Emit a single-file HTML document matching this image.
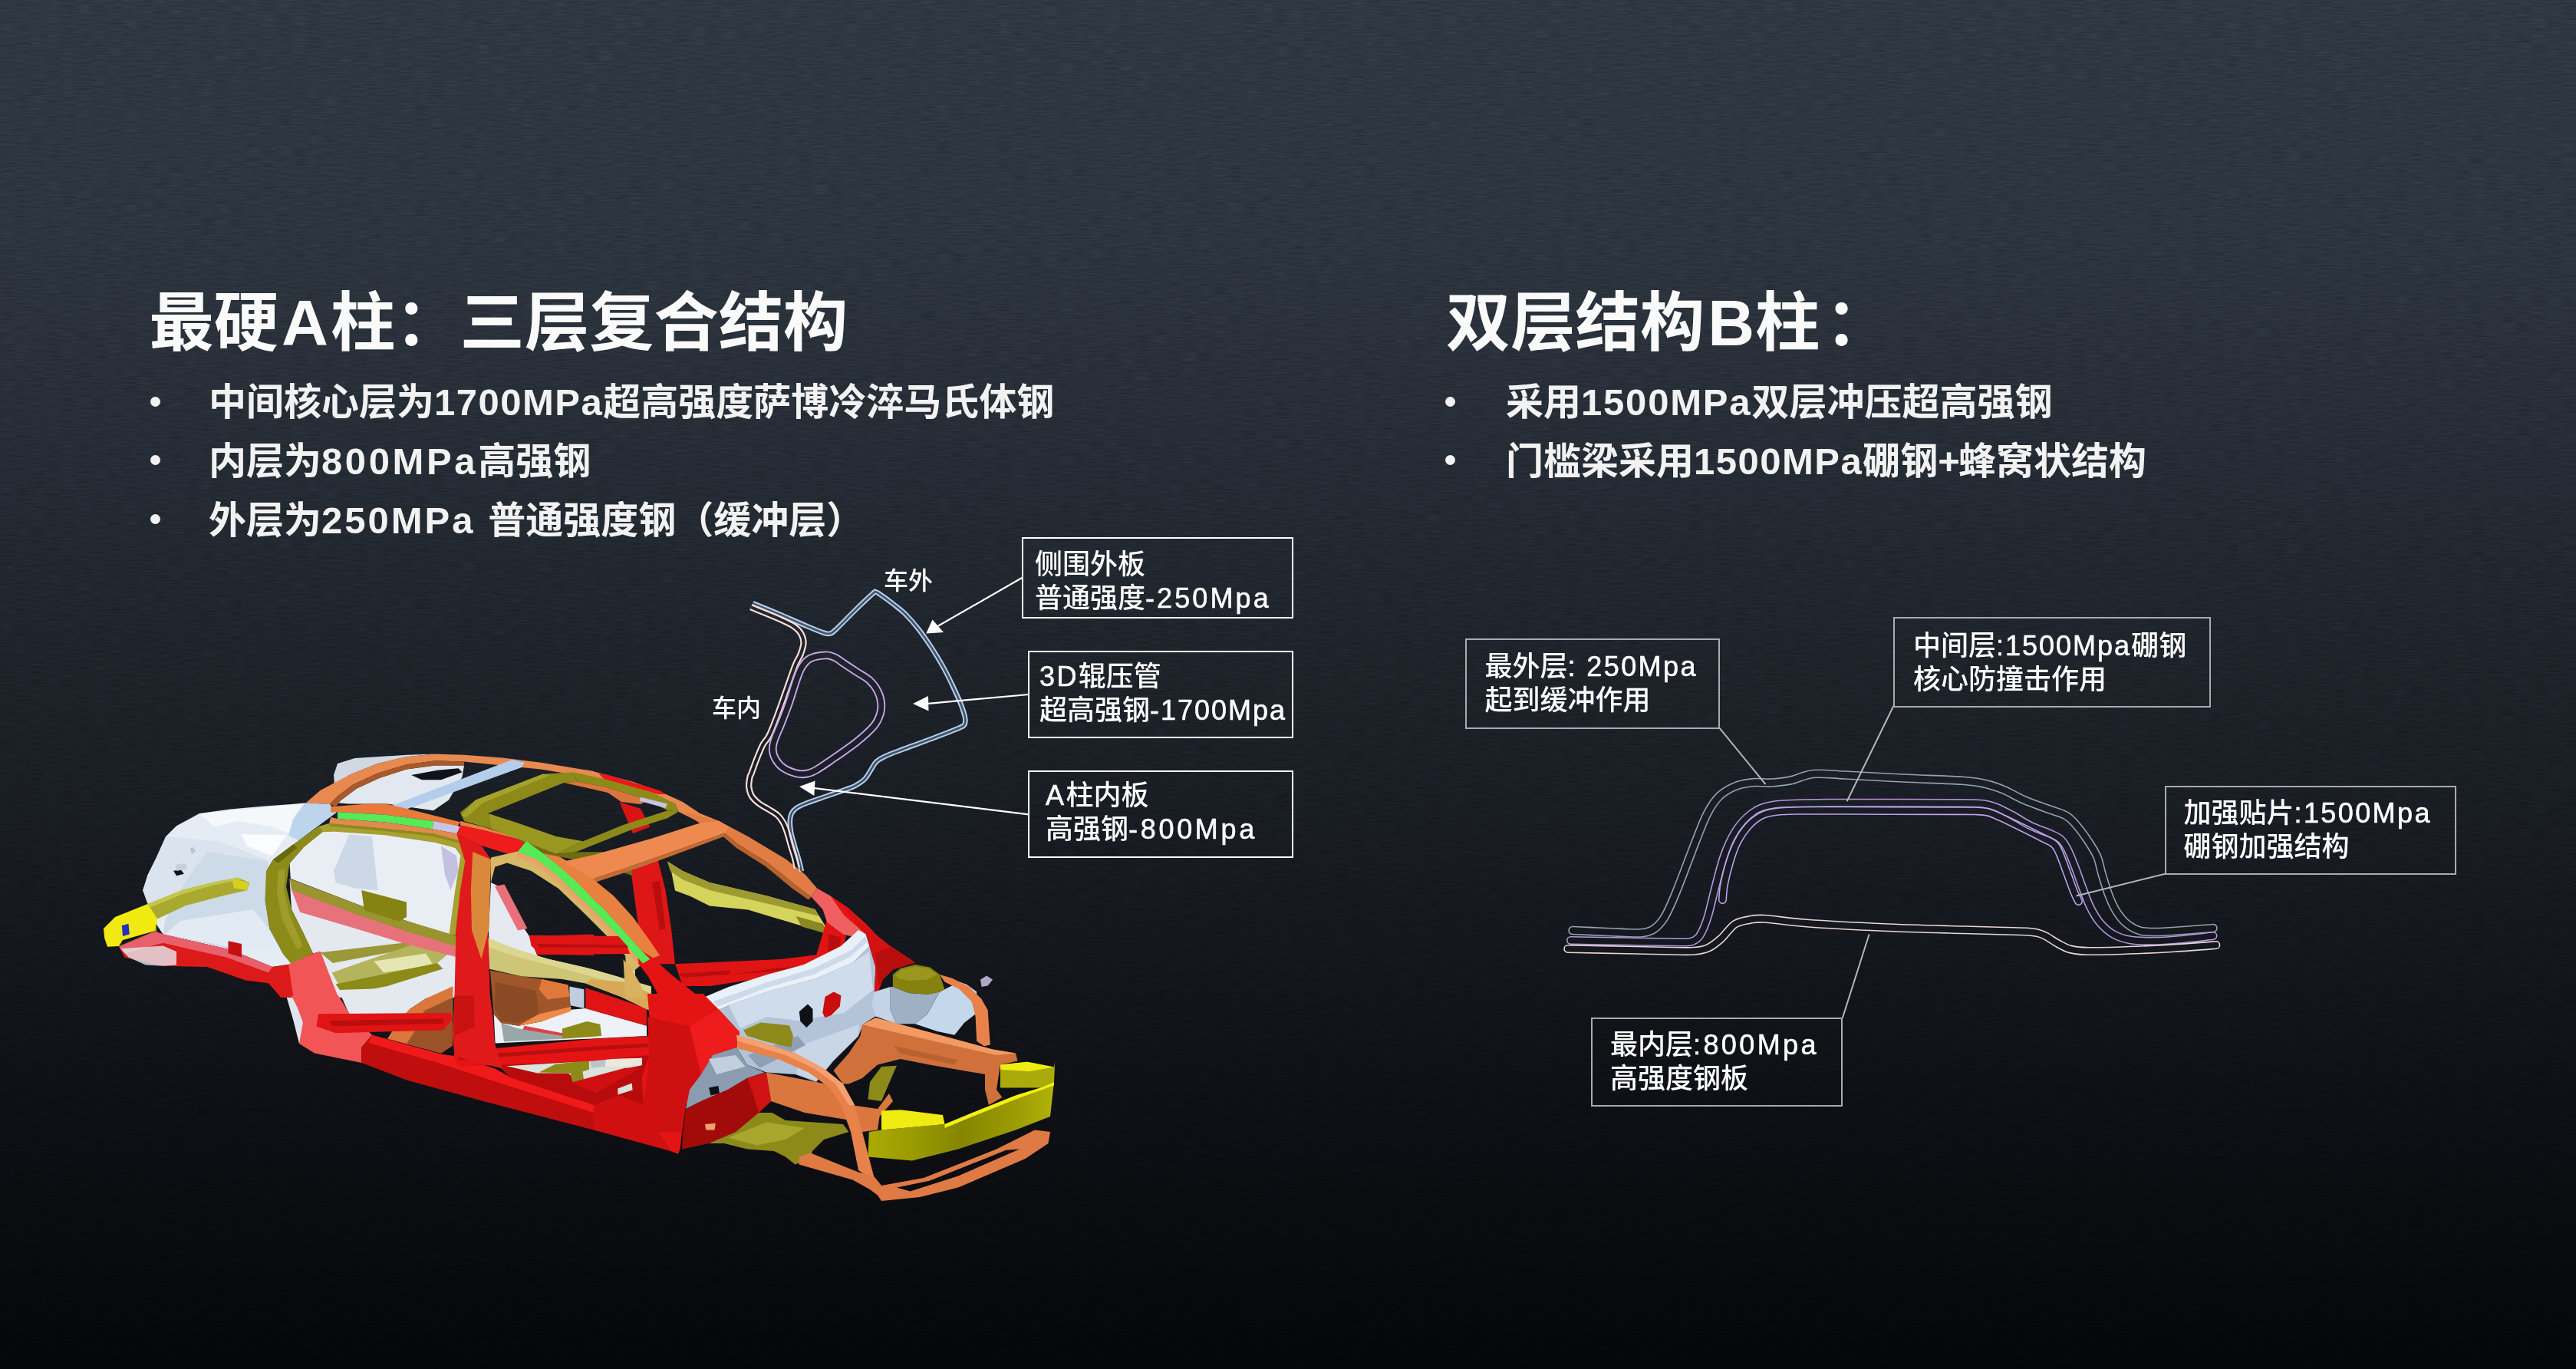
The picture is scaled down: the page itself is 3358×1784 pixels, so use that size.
<!DOCTYPE html>
<html lang="zh-CN">
<head>
<meta charset="utf-8">
<title>A柱 / B柱 结构</title>
<style>
html,body{margin:0;padding:0;}
body{width:3358px;height:1784px;overflow:hidden;position:relative;
  background:linear-gradient(180deg,#2f3842 0%,#2c343e 18%,#222830 40%,#181c23 60%,#0e1015 80%,#050608 100%);
  font-family:"Liberation Sans","Noto Sans CJK SC",sans-serif;color:#f4f4f4;}
.abs{position:absolute;white-space:nowrap;}
.title{font-size:84.3px;font-weight:700;line-height:100px;color:#fafafa;}
.bl{font-size:49px;font-weight:700;line-height:60px;color:#f2f2f2;}
.dot{position:absolute;width:13px;height:13px;border-radius:50%;background:#f2f2f2;}
.lat{letter-spacing:1.5px;}
.lat2{letter-spacing:2.4px;-webkit-text-stroke:0.55px #fff;}
.box{position:absolute;box-sizing:border-box;border:2px solid #fff;}
.boxg{position:absolute;box-sizing:border-box;border:2px solid #a9abad;}
.lb{font-size:36px;font-weight:500;line-height:44px;color:#fff;}
.sm{font-size:32px;font-weight:500;line-height:40px;color:#fff;}
svg{position:absolute;left:0;top:0;}
</style>
</head>
<body>

<svg id="tex" width="3358" height="1784" style="mix-blend-mode:overlay;opacity:.25">
<filter id="nz" x="0" y="0" width="100%" height="100%" color-interpolation-filters="sRGB"><feTurbulence type="fractalNoise" baseFrequency="0.05 0.5" numOctaves="2" seed="7" result="t"/><feColorMatrix type="matrix" values="0.6 0.6 0 0 -0.1  0.6 0.6 0 0 -0.1  0.6 0.6 0 0 -0.1  0 0 0 0 1"/></filter>
<rect width="3358" height="1784" filter="url(#nz)"/>
</svg>

<!-- ===== left heading ===== -->
<div class="abs title" id="t1" style="left:194.5px;top:371px;">最硬<span style="padding:0 3px 0 4px">A</span>柱：三层复合结构</div>
<div class="dot" style="left:196px;top:516.5px;"></div>
<div class="abs bl" id="b1" style="left:272px;top:494px;">中间核心层为<span class="lat">1700MPa</span>超高强度萨博冷淬马氏体钢</div>
<div class="dot" style="left:196px;top:593px;"></div>
<div class="abs bl" id="b2" style="left:272px;top:571px;">内层为<span class="lat" style="letter-spacing:3.6px">800MPa</span>高强钢</div>
<div class="dot" style="left:196px;top:670px;"></div>
<div class="abs bl" id="b3" style="left:272px;top:648px;">外层为<span class="lat" style="letter-spacing:3px">250MPa </span>普通强度钢（缓冲层）</div>

<!-- ===== right heading ===== -->
<div class="abs title" id="t2" style="left:1885px;top:371px;">双层结构<span style="padding:0 1px 0 4px">B</span>柱<span style="margin-left:7px">：</span></div>
<div class="dot" style="left:1884px;top:516.5px;"></div>
<div class="abs bl" id="b4" style="left:1963px;top:494px;">采用<span class="lat" style="letter-spacing:1.8px">1500MPa</span>双层冲压超高强钢</div>
<div class="dot" style="left:1884px;top:593px;"></div>
<div class="abs bl" id="b5" style="left:1963px;top:571px;">门槛梁采用<span class="lat">1500MPa</span>硼钢<span style="letter-spacing:-2px">+</span>蜂窝状结构</div>

<!-- ===== diagrams ===== -->
<svg id="dia" width="3358" height="1784" viewBox="0 0 3358 1784">
<!--CAR-->
<defs>
<linearGradient id="gbump" gradientUnits="userSpaceOnUse" x1="1131.5" y1="1300.0" x2="1374.0" y2="1300.0"><stop offset="0" stop-color="#aaaa04"/><stop offset="0.25" stop-color="#9a9a02"/><stop offset="0.5" stop-color="#858500"/><stop offset="0.8" stop-color="#9c9c04"/><stop offset="1" stop-color="#b2b208"/></linearGradient>
</defs>
<g id="car" shape-rendering="geometricPrecision">
<polygon points="186.2,1160.0 192.5,1140.0 205.0,1115.0 216.2,1090.0 230.0,1076.2 260.0,1060.0 300.0,1054.5 345.0,1050.5 380.0,1048.0 398.8,1046.2 385.0,1065.0 377.5,1087.5 390.0,1095.0 356.2,1120.0 347.0,1135.0 345.5,1172.5 351.2,1210.0 368.8,1242.5 380.0,1256.2 355.0,1260.0 300.0,1237.5 212.5,1217.5 205.0,1206.2 192.5,1177.5" fill="#e5ecf4"/>
<polygon points="260.0,1060.5 380.0,1048.8 395.0,1047.5 381.2,1066.2 376.2,1086.2 355.0,1077.5 310.0,1070.0 280.0,1077.5" fill="#f5f8fb"/>
<polygon points="205.0,1115.0 216.2,1090.0 285.0,1096.2 347.5,1120.0 347.0,1135.0 280.0,1150.0 237.5,1160.0 192.5,1177.5 186.2,1160.0" fill="#dbe4ee"/>
<polygon points="270.0,1110.0 350.0,1122.5 345.5,1172.5 351.2,1210.0 365.0,1235.0 300.0,1236.2 212.5,1217.5 215.0,1200.0 235.0,1160.0 255.0,1130.0" fill="#cddae8"/>
<polygon points="235.0,1200.0 330.0,1185.0 350.0,1210.0 365.0,1237.5 305.0,1235.0 215.0,1217.5" fill="#e2eaf3"/>
<polygon points="226.2,1135.0 235.0,1132.5 240.0,1138.8 230.0,1141.2" fill="#10131a"/>
<polygon points="247.5,1106.2 252.5,1103.8 255.0,1110.0 250.0,1113.0" fill="#b9c6d6"/>
<polygon points="228.8,1127.0 242.5,1125.0 243.8,1132.5 230.0,1135.0" fill="#c4d0de"/>
<polygon points="314.0,1087.2 373.8,1088.0 355.0,1115.5 323.0,1103.0" fill="#fbfcfd"/>
<polygon points="192.5,1178.0 237.5,1160.0 280.0,1149.2 310.0,1143.8 325.0,1150.0 322.5,1160.0 290.0,1167.5 242.5,1180.0 205.0,1197.5" fill="#a9a930"/>
<polygon points="192.5,1178.0 237.5,1160.0 280.0,1149.2 310.0,1143.8 315.0,1146.2 280.0,1153.0 240.0,1164.5 195.5,1182.5" fill="#c4c64c"/>
<polygon points="302.5,1145.0 323.8,1150.0 322.5,1160.0 305.0,1157.5" fill="#d6d020"/>
<polygon points="135.0,1210.0 150.0,1195.0 192.5,1178.0 205.0,1197.5 202.5,1213.0 160.0,1225.0 155.0,1233.0 140.0,1233.8 136.2,1222.5" fill="#f0ea10"/>
<polygon points="155.0,1233.0 202.5,1213.0 205.0,1206.2 203.8,1218.0 160.0,1235.5" fill="#8a8818"/>
<polygon points="158.8,1206.2 167.5,1203.8 168.8,1217.5 160.0,1220.0" fill="#2030c0"/>
<polygon points="155.0,1233.8 202.5,1213.8 212.5,1217.5 300.0,1237.5 355.0,1260.0 380.0,1256.2 382.5,1300.0 366.2,1300.0 350.0,1281.2 320.0,1277.5 270.0,1260.0 212.5,1258.8 162.5,1247.5" fill="#dc1a1a"/>
<polygon points="202.5,1213.8 212.5,1217.5 300.0,1237.5 355.0,1260.0 350.0,1267.5 295.0,1247.5 212.5,1228.8 162.5,1242.5 155.0,1233.8" fill="#e8606c"/>
<polygon points="157.5,1236.2 212.5,1232.5 230.0,1240.0 230.0,1257.5 212.5,1258.8 190.0,1257.5 167.5,1247.5" fill="#e4eaf0" fill-opacity="0.80"/>
<polygon points="297.5,1226.2 315.0,1230.0 315.0,1247.5 297.5,1242.5" fill="#c41010"/>
<polygon points="440.0,995.0 462.5,988.0 530.0,983.8 567.5,982.5 530.0,986.2 492.5,995.0 455.0,1010.0 436.2,1025.0 435.0,1010.0" fill="#d0d8e2"/>
<polygon points="440.0,1046.2 445.0,1042.5 465.0,1027.5 495.0,1013.8 530.0,1002.5 567.5,997.5 605.0,997.5 602.5,1012.5 585.0,1042.5 565.0,1056.2 505.0,1047.5 455.0,1047.5" fill="#e2e8ef"/>
<polygon points="536.2,1010.0 570.0,1003.8 597.5,1001.2 602.5,1006.2 575.0,1016.2 550.0,1016.2" fill="#10131a"/>
<polygon points="398.8,1046.2 417.5,1030.0 455.0,1010.0 492.5,995.0 530.0,986.2 567.5,982.5 605.0,983.8 655.0,987.5 705.0,993.8 774.0,1005.0 774.0,1013.8 705.0,1002.5 655.0,997.5 605.0,992.5 567.5,991.2 530.0,996.2 492.5,1007.5 460.0,1022.5 440.0,1037.5 430.0,1048.0" fill="#e88a50"/>
<polygon points="430.0,1048.0 440.0,1037.5 460.0,1022.5 492.5,1007.5 530.0,996.2 567.5,991.2 605.0,992.5 605.0,997.5 567.5,997.5 530.0,1002.5 495.0,1013.8 465.0,1027.5 445.0,1042.5 437.5,1051.2" fill="#a85a2c"/>
<polygon points="398.8,1046.2 430.0,1048.0 438.8,1058.8 415.0,1076.2 390.0,1095.0 376.2,1088.8 382.5,1067.5" fill="#bcd4ec"/>
<polygon points="502.5,1053.0 667.5,990.0 683.8,993.8 680.0,1000.0 516.2,1059.5" fill="#b4cdea"/>
<polygon points="431.2,1051.2 480.0,1047.5 505.0,1048.0 530.0,1053.8 570.0,1063.8 600.0,1071.2 596.2,1077.0 565.0,1070.0 505.0,1062.0 440.0,1058.0 431.2,1058.8" fill="#e87a3c"/>
<polygon points="440.0,1058.0 505.0,1062.0 565.0,1070.0 563.8,1080.5 505.0,1071.8 440.0,1067.0" fill="#56ea56"/>
<polygon points="565.0,1070.0 600.0,1077.0 595.5,1086.2 563.8,1080.5" fill="#c9c4e6"/>
<polygon points="600.0,1070.0 630.0,1077.5 686.2,1095.0 725.0,1113.8 740.0,1122.5 760.0,1137.5 774.0,1146.2 774.0,1172.5 755.0,1152.5 730.0,1130.0 705.0,1110.0 686.2,1096.2 630.0,1082.0 600.0,1075.5" fill="#e8813f"/>
<polygon points="600.0,1075.5 630.0,1082.0 686.2,1096.2 673.8,1116.2 627.5,1102.0 595.5,1087.5" fill="#ee1c1c"/>
<polygon points="686.2,1096.2 705.0,1110.0 730.0,1130.0 755.0,1152.5 774.0,1172.5 774.0,1186.2 750.0,1163.8 725.0,1139.5 700.0,1120.0 675.0,1110.0" fill="#56ea56"/>
<polygon points="390.0,1096.2 420.0,1082.0 437.5,1079.5 505.0,1085.5 575.0,1097.5 600.0,1107.5 606.2,1122.5 600.0,1150.0 592.5,1185.0 587.5,1218.8 530.0,1200.0 470.0,1180.0 378.8,1145.0 377.5,1125.0 395.0,1105.0" fill="#e9eef5"/>
<polygon points="435.0,1135.0 455.0,1087.5 485.0,1090.0 492.5,1160.0 462.5,1157.5 437.5,1150.0" fill="#ccd8e5"/>
<polygon points="575.0,1102.5 595.0,1115.0 597.5,1135.0 587.5,1160.0 580.0,1140.0" fill="#c4c0e0"/>
<polygon points="377.5,1145.0 390.0,1185.0 455.0,1205.0 530.0,1228.8 597.5,1245.0 598.8,1300.0 440.0,1300.0 417.5,1240.0 408.0,1242.5 395.0,1215.0 380.0,1185.0" fill="#e4e9f0"/>
<polygon points="417.5,1241.2 540.0,1227.0 555.0,1232.5 433.8,1255.0" fill="#9a9838"/>
<polygon points="432.5,1267.5 540.0,1230.0 585.0,1242.5 570.0,1255.0 505.0,1270.0 455.0,1293.8 442.5,1285.0" fill="#b4b45c"/>
<polygon points="487.5,1252.5 555.0,1242.5 565.0,1257.5 500.0,1267.5" fill="#e6e6b4"/>
<polygon points="437.5,1282.5 570.0,1255.0 577.5,1262.5 505.0,1285.0 447.5,1296.2" fill="#8c8a18"/>
<polygon points="356.2,1120.0 390.0,1095.0 415.0,1077.0 421.2,1083.8 395.0,1105.0 377.5,1125.0 373.0,1155.0 380.0,1185.0 395.0,1215.0 408.0,1242.5 380.0,1256.2 368.8,1242.5 351.2,1210.0 345.5,1172.5 347.0,1135.0" fill="#8c8a18"/>
<polygon points="356.2,1120.0 382.5,1100.0 387.5,1105.0 362.5,1125.0" fill="#6a680c"/>
<polygon points="362.5,1135.0 371.2,1132.5 370.0,1160.0 377.5,1192.5 395.0,1232.5 387.5,1237.5 367.5,1197.5 361.2,1165.0" fill="#a09c2c"/>
<polygon points="440.0,1067.0 505.0,1071.8 563.8,1080.5 595.5,1086.2 600.0,1096.2 564.5,1086.8 501.5,1080.0 429.0,1073.2 431.2,1065.0" fill="#e08a50"/>
<polygon points="415.0,1077.0 429.0,1073.0 501.5,1079.8 564.5,1086.2 598.8,1095.5 608.0,1110.0 609.5,1135.0 601.2,1116.2 593.5,1105.0 567.2,1098.0 501.5,1088.2 435.8,1083.8 421.2,1084.2" fill="#a8a030"/>
<polygon points="429.0,1073.0 501.5,1079.8 564.5,1086.2 598.8,1095.5 600.0,1099.0 564.5,1089.8 501.5,1083.0 429.0,1076.5" fill="#8d8a1a"/>
<polygon points="601.2,1110.0 609.5,1112.5 601.2,1165.0 593.8,1218.8 585.5,1217.5 592.5,1165.0" fill="#a8a030"/>
<polygon points="380.0,1159.5 467.5,1192.0 527.5,1212.5 596.2,1233.0 596.2,1247.5 530.0,1230.5 455.0,1207.5 391.2,1188.8" fill="#e8727c"/>
<polygon points="377.5,1145.0 470.0,1180.0 530.0,1200.0 595.0,1219.5 596.2,1233.8 527.5,1213.0 467.5,1192.5 380.0,1160.0" fill="#9a9430"/>
<polygon points="471.2,1160.0 530.0,1175.5 530.0,1195.0 520.0,1200.5 475.0,1186.2" fill="#858312"/>
<polygon points="376.2,1257.0 408.0,1242.5 417.5,1240.0 441.2,1300.0 382.5,1300.0" fill="#f25555"/>
<polygon points="640.0,1150.0 655.0,1157.5 680.0,1205.0 690.0,1220.0 702.5,1250.0 680.0,1247.5 637.5,1232.5 637.0,1210.0" fill="#e6e9f0"/>
<polygon points="645.0,1155.0 657.5,1152.5 687.5,1210.0 675.0,1212.5" fill="#e8707a"/>
<polygon points="690.0,1220.0 774.0,1217.5 774.0,1245.0 705.0,1243.8 692.5,1232.5" fill="#e01414"/>
<polygon points="643.7,1321.5 653.2,1332.9 675.9,1336.7 706.3,1331.0 744.3,1315.8 763.3,1313.9 843.0,1336.7 843.0,1350.0 645.6,1359.5" fill="#eef2f8"/>
<polygon points="742.4,1285.4 761.4,1289.2 761.4,1313.9 742.4,1310.1" fill="#c0cce0"/>
<polygon points="763.3,1287.3 843.0,1313.9 843.0,1336.7 763.3,1313.9" fill="#e01414"/>
<polygon points="653.2,1332.9 675.9,1340.5 732.9,1346.2 732.9,1353.8 657.0,1357.6" fill="#98a8a8"/>
<polygon points="683.5,1336.7 732.9,1346.2 732.9,1350.0 681.6,1341.5" fill="#e04048"/>
<polygon points="732.9,1340.5 765.2,1331.0 782.3,1334.8 784.2,1350.0 732.9,1353.8" fill="#8d8a1a"/>
<polygon points="638.9,1264.6 679.7,1272.2 706.3,1275.9 740.5,1283.5 744.3,1313.9 706.3,1331.0 675.9,1336.7 653.2,1332.9 643.7,1321.5" fill="#a0562a"/>
<polygon points="645.6,1279.7 698.7,1291.1 702.5,1321.5 675.9,1332.9 653.2,1331.0 644.6,1313.9" fill="#8a4a24"/>
<polygon points="706.3,1275.9 740.5,1283.5 742.4,1298.7 713.9,1302.5 702.5,1289.2" fill="#e0783a"/>
<polygon points="702.5,1321.5 744.3,1312.0 744.3,1317.7 706.3,1331.0 675.9,1336.7" fill="#f08848"/>
<polygon points="636.1,1222.8 675.9,1238.0 713.9,1249.4 770.9,1262.7 816.5,1275.9 848.7,1285.4 848.7,1317.7 808.9,1298.7 763.3,1281.6 732.9,1275.9 679.7,1272.2 638.0,1262.7" fill="#cdc676"/>
<polygon points="636.1,1222.8 675.9,1238.0 713.9,1249.4 770.9,1262.7 816.5,1275.9 848.7,1285.4 848.7,1294.9 808.9,1283.5 763.3,1270.3 713.9,1257.0 675.9,1247.5 636.1,1234.2" fill="#dcd690"/>
<polygon points="763.3,1281.6 808.9,1298.7 848.7,1317.7 848.7,1294.9 816.5,1279.7 770.9,1275.9" fill="#d8a858"/>
<polygon points="816.5,1245.6 827.8,1245.6 827.8,1277.8 816.5,1275.9" fill="#e8e4a8"/>
<polygon points="647.5,1387.0 845.9,1373.7 845.9,1450.6 773.9,1441.1 667.4,1406.0" fill="#b80c0c"/>
<polygon points="660.2,1389.3 836.8,1378.7 836.8,1388.2 811.5,1393.3 776.2,1407.3 761.4,1410.4 750.9,1408.5 740.9,1398.4 700.6,1398.4 670.3,1391.4" fill="#d8e4dc"/>
<polygon points="769.0,1381.3 789.9,1380.0 788.9,1389.9 770.9,1391.8" fill="#b8c6cc"/>
<polygon points="789.9,1380.0 836.8,1378.7 836.8,1387.0 808.9,1389.9 788.9,1389.9" fill="#ece8dc"/>
<polygon points="805.4,1418.5 823.7,1411.5 824.6,1420.6 805.4,1426.5" fill="#d8e4dc"/>
<polygon points="702.5,1397.5 723.4,1387.0 768.0,1381.3 768.0,1393.7 759.5,1396.5 761.4,1408.9 746.2,1409.8 743.4,1398.4" fill="#8d8a1a"/>
<polygon points="744.3,1410.8 814.6,1391.8 835.4,1391.8 776.6,1424.0" fill="#d01010"/>
<polygon points="595.5,1087.5 627.5,1102.0 640.0,1120.0 636.2,1210.0 638.8,1300.0 592.5,1300.0 594.5,1210.0 600.0,1160.0 606.2,1122.5" fill="#e01a1a"/>
<polygon points="616.2,1110.0 640.0,1120.0 637.5,1210.0 627.5,1250.0 615.0,1212.5 613.8,1160.0" fill="#d9883c"/>
<polygon points="807.5,1045.0 835.0,1053.8 847.5,1077.5 825.0,1086.2" fill="#d81414"/>
<polygon points="822.5,1135.0 857.5,1120.0 867.5,1160.0 875.0,1210.0 880.0,1256.2 855.0,1256.2 832.5,1210.0 827.5,1172.5" fill="#df1616"/>
<polygon points="850.0,1150.0 860.0,1147.5 867.5,1210.0 860.0,1212.5" fill="#b80e0e"/>
<polygon points="772.5,1005.0 825.0,1018.8 862.5,1032.5 890.0,1045.0 912.5,1060.0 937.5,1070.0 915.0,1073.0 885.0,1058.0 880.0,1047.5 850.0,1033.8 787.5,1016.2 772.5,1013.8" fill="#e88a50"/>
<polygon points="780.0,1007.5 790.0,1009.2 860.0,1030.0 867.5,1035.0 857.5,1035.0 787.5,1015.5" fill="#ea1818"/>
<polygon points="890.0,1057.5 937.5,1070.0 975.0,1090.0 1025.0,1120.0 1050.0,1140.0 1065.0,1157.5 1057.5,1168.8 1037.5,1153.8 1000.0,1123.8 962.5,1100.5 945.0,1086.2 912.5,1073.0" fill="#e07c44"/>
<polygon points="945.0,1086.2 962.5,1100.5 1000.0,1123.8 1037.5,1153.8 1057.5,1168.8 1053.8,1172.5 1032.5,1157.5 997.5,1128.8 960.0,1105.0 942.5,1090.0" fill="#b5622e"/>
<polygon points="1057.5,1168.8 1065.0,1157.5 1082.5,1167.5 1105.0,1185.0 1120.0,1200.0 1135.0,1212.5 1110.0,1220.0 1082.5,1215.0 1072.5,1185.0" fill="#f06060"/>
<polygon points="1082.5,1167.5 1105.0,1182.5 1130.0,1205.0 1144.0,1220.0 1144.0,1230.0 1120.0,1210.0 1100.0,1192.5" fill="#e41414"/>
<polygon points="600.0,1058.8 620.0,1042.5 707.5,1008.8 747.5,1006.2 752.5,1018.8 735.0,1020.0 636.2,1060.0 640.0,1080.0 605.0,1070.0" fill="#8d8a1a"/>
<polygon points="620.0,1042.5 707.5,1008.8 717.5,1010.0 630.0,1046.2 607.5,1065.0 601.2,1062.5" fill="#a5a22c"/>
<polygon points="747.5,1006.2 787.5,1015.0 850.0,1032.5 880.0,1047.5 885.0,1057.5 870.0,1056.2 845.0,1042.5 787.5,1025.0 752.5,1018.8" fill="#8d8a1a"/>
<polygon points="735.0,1020.0 752.5,1018.8 787.5,1025.0 845.0,1042.5 835.0,1048.0 810.0,1045.0 792.5,1033.0" fill="#d9763c"/>
<polygon points="835.0,1038.8 870.0,1047.5 867.5,1053.0 833.8,1043.8" fill="#c9c4e6"/>
<polygon points="885.0,1057.5 870.0,1066.2 825.0,1080.5 775.0,1100.5 750.0,1110.5 725.0,1113.0 760.0,1096.2 812.5,1075.0 870.0,1056.2" fill="#8d8a1a"/>
<polygon points="636.2,1060.0 675.0,1072.5 725.0,1090.0 760.0,1096.2 725.0,1113.0 675.0,1093.0 640.0,1080.0" fill="#9a9720"/>
<polygon points="675.0,1093.0 725.0,1113.0 750.0,1110.5 795.0,1110.0 822.5,1130.0 825.0,1141.2 800.0,1133.0 750.0,1120.5 700.0,1110.5" fill="#6e6c10"/>
<polygon points="735.0,1122.5 775.0,1113.8 850.0,1092.5 912.5,1072.5 937.5,1070.0 950.0,1077.5 945.0,1085.5 875.0,1110.5 825.0,1128.0 772.5,1145.5 760.0,1138.0" fill="#ee8a50"/>
<polygon points="772.5,1145.5 825.0,1128.0 875.0,1110.5 945.0,1085.5 943.8,1090.0 875.0,1115.5 825.0,1133.8 775.0,1150.0" fill="#c56a34"/>
<polygon points="760.0,1137.5 772.5,1145.0 800.0,1167.5 825.0,1195.0 850.0,1230.0 860.0,1245.0 847.5,1250.0 832.5,1235.0 812.5,1212.5 787.5,1185.0 750.0,1150.0 725.0,1132.5" fill="#e8813f"/>
<polygon points="774.0,1172.5 787.5,1185.0 812.5,1212.5 832.5,1235.0 847.5,1250.0 838.0,1255.5 822.5,1238.0 800.0,1213.0 774.0,1186.2" fill="#56ea56"/>
<polygon points="640.0,1117.5 675.0,1109.5 700.0,1120.0 725.0,1139.5 750.0,1163.8 774.0,1186.2 800.0,1213.0 822.5,1238.0 838.0,1255.5 825.0,1266.2 817.0,1275.2 815.2,1245.5 794.2,1222.8 762.8,1191.2 727.8,1157.8 692.5,1135.0 661.0,1124.5 645.2,1129.8 640.0,1150.0" fill="#d6b866"/>
<polygon points="675.0,1109.5 700.0,1120.0 725.0,1139.5 750.0,1163.8 774.0,1186.2 800.0,1213.0 822.5,1238.0 838.0,1255.5 833.8,1259.0 818.8,1242.0 796.2,1217.5 770.5,1191.2 746.2,1168.8 721.2,1145.0 696.2,1126.2 672.5,1116.2" fill="#e6a468"/>
<polygon points="870.0,1122.5 890.0,1135.0 925.0,1150.0 1000.0,1167.5 1062.5,1185.0 1082.5,1217.5 1050.0,1208.0 975.0,1185.5 925.0,1180.5 900.0,1168.0 880.0,1160.5 875.0,1135.0" fill="#d4d45c"/>
<polygon points="870.0,1122.5 890.0,1135.0 925.0,1150.0 1000.0,1167.5 1062.5,1185.0 1067.5,1193.8 1000.0,1177.5 925.0,1160.0 890.0,1146.2 873.8,1135.0" fill="#9c9a30"/>
<polygon points="1037.5,1193.8 1072.5,1203.8 1080.0,1217.5 1045.0,1207.5" fill="#8a8820"/>
<polygon points="690.0,1218.8 812.5,1220.0 821.2,1243.0 700.0,1244.2" fill="#e01414"/>
<polygon points="700.0,1230.0 817.5,1231.2 818.8,1235.0 702.5,1234.5" fill="#b80e0e"/>
<polygon points="880.0,1256.2 1075.0,1247.5 1090.0,1260.0 925.0,1285.0 890.0,1285.0" fill="#e01414"/>
<polygon points="885.0,1268.8 1080.0,1257.5 1082.5,1261.2 890.0,1273.8" fill="#b80e0e"/>
<polygon points="830.0,1235.0 850.0,1247.5 875.0,1270.0 912.5,1300.0 860.0,1300.0 845.0,1272.5 832.5,1256.2" fill="#e41414"/>
<polygon points="812.5,1250.0 825.0,1266.2 835.0,1282.5 840.0,1300.0 815.0,1300.0 813.8,1272.5" fill="#d8b25e"/>
<polygon points="686.2,1096.2 705.0,1110.0 730.0,1130.0 755.0,1152.5 774.0,1172.5 787.5,1185.0 812.5,1212.5 832.5,1235.0 847.5,1250.0 838.0,1255.5 822.5,1238.0 800.0,1213.0 774.0,1186.2 750.0,1163.8 725.0,1139.5 700.0,1120.0 675.0,1110.0" fill="#56ea56"/>
<polygon points="441.2,1290.0 590.5,1285.2 555.0,1301.2 534.2,1315.0 520.0,1331.2 505.0,1323.8 455.0,1321.2" fill="#e4e9f0"/>
<polygon points="590.5,1285.2 590.0,1362.5 575.0,1372.5 505.0,1353.8 520.0,1330.0 534.2,1315.0 555.0,1301.2" fill="#d9783a"/>
<polygon points="552.5,1317.5 590.0,1300.0 590.0,1362.5 575.0,1372.5 530.0,1360.0 545.0,1337.5" fill="#9a5228"/>
<polygon points="373.8,1300.0 390.0,1300.0 395.0,1332.5 397.5,1357.5 390.0,1360.0 382.5,1330.0" fill="#dde6ef"/>
<polygon points="380.0,1297.5 441.2,1297.5 455.0,1320.0 485.0,1348.8 471.2,1365.0 471.2,1385.0 410.0,1372.5 390.0,1360.0 395.0,1332.5 387.5,1312.5" fill="#f25555"/>
<polygon points="415.0,1321.2 587.5,1320.0 590.0,1328.8 577.5,1342.5 437.5,1346.2 412.5,1337.5" fill="#e01414"/>
<polygon points="430.0,1330.0 577.5,1327.5 578.8,1333.8 432.5,1337.5" fill="#b80e0e"/>
<polygon points="471.2,1365.0 485.0,1348.8 575.0,1373.8 592.5,1376.2 645.0,1392.5 667.5,1405.0 774.0,1440.0 774.0,1472.5 630.0,1435.0 530.0,1407.5 471.2,1385.0" fill="#c00d0d"/>
<polygon points="485.0,1348.8 575.0,1373.8 592.5,1376.2 645.0,1392.5 667.5,1405.0 774.0,1440.0 774.0,1450.0 655.0,1412.5 575.0,1386.2 480.0,1358.8" fill="#f01a1a"/>
<polygon points="592.5,1371.2 774.0,1353.8 774.0,1382.5 597.5,1390.0 591.2,1377.5" fill="#e41414"/>
<polygon points="597.5,1376.2 774.0,1363.8 774.0,1368.8 598.8,1381.2" fill="#b80e0e"/>
<polygon points="592.5,1297.5 638.8,1297.5 642.5,1325.0 645.0,1360.0 655.0,1392.5 592.5,1376.2 590.0,1350.0" fill="#e01a1a"/>
<polygon points="592.5,1297.5 617.5,1297.5 618.8,1337.5 592.5,1350.0" fill="#c81212"/>
<polygon points="1077.1,1200.9 1102.9,1220.2 1099.6,1233.0 1077.1,1249.1 1000.0,1263.6 951.8,1270.0 951.8,1260.4 1000.0,1252.3 1064.3,1244.3" fill="#e01414"/>
<polygon points="1080.4,1217.0 1096.4,1221.8 1094.8,1233.0 1078.7,1244.3" fill="#b80e0e"/>
<polygon points="925.0,1322.0 950.0,1310.0 1000.0,1292.5 1064.0,1275.0 1112.5,1254.0 1133.4,1233.0 1141.4,1260.4 1139.8,1292.5 1141.4,1324.6 1125.4,1334.3 1118.9,1350.4 1086.5,1382.5 1064.0,1410.0 1036.5,1400.0 999.0,1397.5 974.0,1387.5 960.3,1365.0 964.0,1345.0 936.5,1315.0" fill="#b4c4d8"/>
<polygon points="950.0,1310.0 1000.0,1292.5 1064.0,1275.0 1112.5,1254.0 1133.0,1240.0 1138.0,1290.0 1100.0,1320.0 1040.0,1330.0 1000.0,1325.0 965.0,1340.0" fill="#cfdceb"/>
<polygon points="1036.0,1365.0 1120.0,1335.0 1118.0,1350.0 1086.0,1382.0 1064.0,1408.0 1040.0,1400.0" fill="#c8d6e6"/>
<polygon points="975.0,1375.0 1040.0,1350.0 1050.0,1362.0 990.0,1392.0" fill="#8fa0b6"/>
<polygon points="912.0,1302.0 950.0,1286.0 1000.0,1270.0 1048.0,1257.0 1096.0,1233.0 1119.0,1212.0 1128.6,1217.0 1133.4,1233.0 1112.5,1254.0 1064.0,1275.0 1000.0,1292.5 950.0,1310.0 925.0,1322.0" fill="#e9f0f8"/>
<polygon points="930.0,1305.0 1000.0,1280.0 1060.0,1262.0 1110.0,1238.0 1128.0,1220.0 1130.0,1228.0 1108.0,1247.0 1060.0,1270.0 1000.0,1287.0 935.0,1312.0" fill="#cddaea"/>
<polygon points="1072.3,1319.8 1075.5,1298.9 1086.8,1292.5 1096.4,1297.3 1094.8,1311.8 1083.6,1323.0 1075.5,1326.2" fill="#c80e0e"/>
<polygon points="1041.8,1318.2 1053.0,1308.6 1059.5,1315.0 1059.5,1331.1 1051.4,1339.1 1043.4,1331.1" fill="#0e1116"/>
<polygon points="969.0,1342.5 991.5,1332.5 1029.0,1336.2 1034.0,1350.0 1031.5,1365.0 999.0,1357.5 974.0,1350.0" fill="#8d8a1a"/>
<polygon points="1099.6,1180.0 1128.6,1207.3 1160.7,1233.0 1192.8,1253.9 1163.9,1263.6 1151.1,1276.4 1144.6,1292.5 1139.8,1292.5 1141.4,1260.4 1133.4,1233.0 1128.6,1217.0 1122.1,1212.1" fill="#d41212"/>
<polygon points="1141.4,1241.1 1160.7,1234.6 1192.8,1254.7 1163.9,1263.6 1151.1,1276.4 1144.6,1284.5" fill="#b80e0e"/>
<polygon points="1139.8,1292.5 1160.7,1286.1 1160.7,1316.6 1168.7,1334.3 1141.4,1324.6 1136.6,1308.6" fill="#c4d4e6"/>
<polygon points="1225.0,1292.5 1231.4,1289.3 1250.7,1279.6 1260.3,1282.9 1273.2,1292.5 1271.6,1321.4 1257.1,1332.7 1244.3,1348.7 1221.8,1343.9 1192.8,1334.3 1208.9,1321.4" fill="#c4d8ec"/>
<polygon points="1160.7,1286.1 1163.9,1286.1 1184.8,1294.1 1208.9,1295.7 1225.0,1292.5 1208.9,1321.4 1192.8,1334.3 1168.7,1334.3 1160.7,1316.6" fill="#9fb0c4"/>
<polygon points="1163.9,1270.0 1173.6,1262.0 1192.8,1257.1 1212.1,1260.4 1225.0,1270.0 1231.4,1289.3 1225.0,1292.5 1208.9,1295.7 1184.8,1294.1 1163.9,1286.1" fill="#85820f"/>
<polygon points="1167.1,1270.0 1175.2,1263.6 1192.8,1259.6 1210.5,1262.3 1221.8,1270.0 1208.9,1276.4 1184.8,1278.0 1170.3,1274.8" fill="#9a961f"/>
<polygon points="1225.0,1270.0 1241.1,1274.8 1263.6,1286.1 1279.6,1302.1 1287.7,1316.6 1289.3,1340.7 1290.9,1361.6 1282.8,1363.2 1273.2,1356.8 1271.6,1324.6 1266.8,1305.4 1250.7,1289.3 1231.4,1279.6" fill="#e8824a"/>
<polygon points="1278.0,1276.4 1286.1,1271.6 1294.1,1276.4 1287.7,1284.5 1279.6,1286.1" fill="#b0a8c0"/>
<polygon points="844.0,1295.0 916.5,1295.0 936.5,1315.0 964.0,1345.0 960.2,1365.0 929.0,1375.0 914.0,1400.0 894.0,1440.0 889.0,1475.0 886.5,1497.5 884.0,1503.8 874.0,1500.0 856.5,1475.0 839.0,1440.0 836.5,1405.0 846.5,1375.0 846.5,1325.0" fill="#e41414"/>
<polygon points="774.0,1353.8 846.5,1350.0 846.5,1375.0 774.0,1382.5" fill="#e41414"/>
<polygon points="774.0,1363.8 845.2,1359.5 845.2,1364.5 774.0,1368.8" fill="#b80e0e"/>
<polygon points="774.0,1440.0 806.5,1427.5 839.0,1440.0 856.5,1475.0 874.0,1500.0 774.0,1472.5" fill="#d01010"/>
<polygon points="844.0,1325.0 899.0,1337.5 914.0,1400.0 894.0,1440.0 889.0,1475.0 856.5,1475.0 839.0,1440.0 846.5,1375.0" fill="#cf1010"/>
<polygon points="899.0,1337.5 936.5,1315.0 964.0,1345.0 960.2,1365.0 929.0,1375.0 914.0,1400.0" fill="#ee1c1c"/>
<polygon points="929.0,1375.0 960.2,1365.0 974.0,1387.5 996.5,1397.5 974.0,1405.0 949.0,1420.0 914.0,1435.0 894.0,1445.0 899.0,1420.0 914.0,1400.0" fill="#8c9cb0"/>
<polygon points="924.0,1380.0 959.0,1375.0 971.5,1390.0 934.0,1400.0" fill="#c2cfdc"/>
<polygon points="924.0,1417.5 936.5,1415.0 937.8,1425.0 926.5,1427.5" fill="#0e1116"/>
<polygon points="894.0,1445.0 914.0,1435.0 949.0,1420.0 974.0,1405.0 999.0,1397.5 1005.2,1435.0 989.0,1450.0 959.0,1475.0 924.0,1490.0 889.0,1497.5 890.2,1475.0" fill="#a30b0b"/>
<polygon points="974.0,1405.0 999.0,1397.5 1005.2,1435.0 989.0,1450.0 981.5,1425.0" fill="#d01212"/>
<polygon points="919.0,1465.0 932.8,1463.8 931.5,1472.5 920.2,1472.5" fill="#f0a070"/>
<polygon points="924.0,1490.0 959.0,1475.0 989.0,1450.0 1006.5,1450.0 1024.0,1460.0 1099.0,1465.0 1106.5,1475.0 1074.0,1485.0 1059.0,1500.0 1056.5,1510.0 1036.5,1517.5 1024.0,1507.5 1009.0,1500.0 974.0,1497.5 944.0,1490.0" fill="#8d8a1a"/>
<polygon points="949.0,1482.5 999.0,1462.5 1049.0,1470.0 1024.0,1485.0 986.5,1492.5" fill="#a8a62c"/>
<polygon points="1134.0,1410.0 1149.0,1390.0 1169.0,1388.8 1164.0,1400.0 1149.0,1435.0 1131.5,1432.5" fill="#8d8a1a"/>
<polygon points="999.0,1397.5 1064.0,1410.0 1099.0,1417.5 1109.0,1440.0 1144.0,1445.0 1159.0,1425.0 1164.0,1435.0 1146.5,1455.0 1144.0,1472.5 1124.0,1475.0 1109.0,1460.0 1049.0,1450.0 1005.2,1435.0" fill="#d9773e"/>
<polygon points="1124.0,1335.0 1141.5,1326.2 1294.0,1367.5 1324.0,1372.5 1326.5,1382.5 1304.0,1387.5 1299.0,1420.0 1306.5,1430.0 1289.0,1440.0 1284.0,1420.0 1284.0,1400.0 1211.5,1387.5 1174.0,1380.0 1144.0,1387.5 1124.0,1405.0 1106.5,1412.5 1099.0,1412.5 1086.5,1395.0 1106.5,1372.5 1121.5,1350.0" fill="#d0713c"/>
<polygon points="1164.0,1362.5 1249.0,1381.2 1244.0,1387.5 1174.0,1373.0" fill="#b86232"/>
<polygon points="1124.0,1335.0 1141.5,1326.2 1294.0,1367.5 1324.0,1372.5 1299.0,1375.0 1144.0,1340.0" fill="#f29a62"/>
<polygon points="960.2,1348.8 991.5,1357.5 1036.5,1372.5 1074.0,1392.5 1099.0,1412.5 1114.0,1440.0 1124.0,1475.0 1139.0,1532.5 1134.0,1535.0 1119.0,1525.0 1109.0,1475.0 1096.5,1440.0 1081.5,1417.5 1054.0,1397.5 1014.0,1380.0 961.5,1366.2" fill="#e8824a"/>
<polygon points="960.2,1348.8 991.5,1357.5 1036.5,1372.5 1074.0,1392.5 1099.0,1412.5 1114.0,1440.0 1106.5,1440.0 1089.0,1412.5 1061.5,1392.5 1024.0,1375.0 961.5,1356.2" fill="#f4a070"/>
<polygon points="1041.5,1507.5 1056.5,1502.5 1119.0,1527.5 1139.0,1532.5 1149.0,1545.0 1204.0,1535.0 1299.0,1497.5 1349.0,1472.5 1369.0,1475.0 1366.5,1490.0 1336.5,1510.0 1249.0,1547.5 1199.0,1560.0 1149.0,1565.0 1144.0,1557.5 1134.0,1550.0 1111.5,1537.5 1041.5,1517.5" fill="#df7a44"/>
<polygon points="1169.0,1547.5 1211.5,1538.8 1311.5,1498.8 1329.0,1497.5 1249.0,1532.5 1186.5,1552.5" fill="#0b0d12"/>
<polygon points="1132.8,1475.0 1149.0,1472.5 1231.5,1465.0 1274.0,1447.5 1324.0,1427.5 1356.5,1417.5 1374.0,1410.0 1369.0,1455.0 1324.0,1472.5 1249.0,1497.5 1189.0,1512.5 1131.5,1507.5" fill="url(#gbump)"/>
<polygon points="1149.0,1447.5 1174.0,1446.2 1229.0,1453.0 1231.5,1465.0 1149.0,1472.5" fill="#f0ec12"/>
<polygon points="1304.0,1387.5 1339.0,1383.8 1374.0,1390.5 1375.2,1383.8 1374.0,1410.0 1356.5,1417.5 1304.0,1417.5" fill="#aaaa0a"/>
<polygon points="1304.0,1387.5 1339.0,1383.8 1374.0,1390.5 1341.5,1396.2 1304.0,1393.8" fill="#f0ec12"/>
<polygon points="1231.5,1465.0 1274.0,1447.5 1324.0,1427.5 1356.5,1417.5 1374.0,1410.0 1373.8,1414.5 1324.0,1432.5 1274.0,1452.5 1231.5,1470.0" fill="#f4f010"/>
</g>
<!--/CAR-->
<!--DIA-->
<defs><mask id="m_bo" maskUnits="userSpaceOnUse" x="0" y="0" width="3358" height="1784"><rect width="3358" height="1784" fill="#fff"/><path d="M2050.0 1212.5 C2057.5 1212.8 2082.5 1214.0 2095.0 1214.5 C2107.5 1215.0 2117.2 1215.6 2125.0 1215.8 C2132.8 1216.0 2136.8 1216.4 2142.0 1215.5 C2147.2 1214.6 2151.6 1213.9 2156.3 1210.5 C2161.0 1207.1 2165.2 1203.0 2170.0 1195.0 C2174.8 1187.0 2178.3 1178.8 2185.0 1162.5 C2191.7 1146.2 2203.3 1114.4 2210.0 1097.5 C2216.7 1080.6 2220.0 1071.1 2225.0 1061.3 C2230.0 1051.5 2234.2 1044.8 2240.0 1038.8 C2245.8 1032.8 2252.7 1028.7 2260.0 1025.5 C2267.3 1022.3 2275.7 1020.7 2283.8 1019.8 C2291.9 1018.9 2300.5 1020.5 2308.8 1020.0 C2317.1 1019.5 2324.6 1018.9 2333.8 1017.0 C2343.0 1015.1 2351.9 1009.7 2363.8 1008.5 C2375.7 1007.3 2385.6 1009.1 2405.0 1010.0 C2424.4 1010.9 2454.6 1012.8 2480.0 1014.0 C2505.4 1015.2 2539.6 1016.1 2557.5 1017.3 C2575.4 1018.5 2578.3 1019.3 2587.5 1021.3 C2596.7 1023.3 2604.2 1026.0 2612.5 1029.5 C2620.8 1033.0 2628.8 1038.2 2637.5 1042.0 C2646.2 1045.8 2655.8 1049.1 2665.0 1052.5 C2674.2 1055.9 2685.6 1058.8 2692.5 1062.5 C2699.4 1066.2 2701.5 1069.6 2706.3 1075.0 C2711.1 1080.4 2716.7 1088.1 2721.3 1095.0 C2725.9 1101.9 2730.7 1109.0 2733.8 1116.3 C2736.9 1123.6 2737.5 1130.5 2740.0 1138.8 C2742.5 1147.1 2745.7 1158.2 2748.8 1166.3 C2751.9 1174.4 2754.9 1181.2 2758.8 1187.5 C2762.8 1193.8 2767.1 1199.5 2772.5 1203.8 C2777.9 1208.1 2783.4 1211.5 2791.3 1213.3 C2799.2 1215.0 2804.4 1214.9 2820.0 1214.3 C2835.6 1213.7 2874.2 1210.3 2885.0 1209.5" fill="none" stroke="#000" stroke-width="8.4" stroke-linecap="round" stroke-linejoin="round"/></mask><mask id="m_bm" maskUnits="userSpaceOnUse" x="0" y="0" width="3358" height="1784"><rect width="3358" height="1784" fill="#fff"/><path d="M2047.5 1225.5 C2059.6 1225.7 2097.9 1226.4 2120.0 1226.8 C2142.1 1227.2 2166.2 1227.7 2180.0 1227.8 C2193.8 1227.9 2197.3 1228.5 2203.0 1227.5 C2208.7 1226.5 2211.0 1224.6 2214.0 1221.5 C2217.0 1218.4 2218.8 1213.9 2221.0 1209.0 C2223.2 1204.1 2224.4 1201.0 2227.0 1192.0 C2229.6 1183.0 2232.9 1167.8 2236.3 1155.0 C2239.7 1142.2 2243.3 1126.7 2247.5 1115.0 C2251.7 1103.3 2256.3 1093.3 2261.3 1085.0 C2266.3 1076.7 2271.7 1070.3 2277.5 1065.0 C2283.3 1059.7 2289.0 1055.8 2296.3 1053.0 C2303.6 1050.2 2307.4 1049.1 2321.3 1048.0 C2335.2 1046.9 2353.6 1046.6 2380.0 1046.3 C2406.4 1046.0 2453.3 1046.3 2480.0 1046.3 C2506.7 1046.3 2524.7 1046.4 2540.0 1046.5 C2555.3 1046.6 2564.0 1046.5 2572.0 1046.8 C2580.0 1047.0 2583.0 1047.1 2588.0 1048.0 C2593.0 1048.9 2596.2 1049.7 2602.0 1052.0 C2607.8 1054.3 2614.9 1058.0 2622.5 1062.0 C2630.1 1066.0 2639.2 1072.2 2647.5 1076.3 C2655.8 1080.3 2666.0 1083.4 2672.5 1086.3 C2679.0 1089.2 2682.6 1090.5 2686.3 1093.8 C2690.1 1097.1 2691.9 1100.3 2695.0 1106.3 C2698.1 1112.3 2701.7 1121.5 2705.0 1130.0 C2708.3 1138.5 2711.7 1148.8 2715.0 1157.5 C2718.3 1166.2 2721.2 1175.0 2725.0 1182.5 C2728.8 1190.0 2732.5 1196.7 2737.5 1202.5 C2742.5 1208.3 2748.3 1213.8 2755.0 1217.5 C2761.7 1221.2 2768.3 1223.5 2777.5 1225.0 C2786.7 1226.5 2798.3 1226.5 2810.0 1226.3 C2821.7 1226.1 2835.0 1224.9 2847.5 1223.8 C2860.0 1222.7 2878.8 1220.2 2885.0 1219.5" fill="none" stroke="#000" stroke-width="7.9" stroke-linecap="round" stroke-linejoin="round"/></mask><mask id="m_bp" maskUnits="userSpaceOnUse" x="0" y="0" width="3358" height="1784"><rect width="3358" height="1784" fill="#fff"/><path d="M2245.5 1172.5 C2245.8 1169.2 2245.9 1160.8 2247.5 1152.5 C2249.1 1144.2 2252.1 1131.9 2255.0 1122.5 C2257.9 1113.1 2261.0 1104.0 2265.0 1096.3 C2269.0 1088.6 2273.8 1081.8 2278.8 1076.3 C2283.8 1070.8 2289.4 1066.0 2295.0 1063.0 C2300.6 1060.0 2304.6 1059.1 2312.5 1058.0 C2320.4 1056.9 2317.9 1056.5 2342.5 1056.3 C2367.1 1056.0 2427.1 1056.5 2460.0 1056.5 C2492.9 1056.5 2520.8 1056.5 2540.0 1056.6 C2559.2 1056.6 2566.3 1056.5 2575.0 1056.8 C2583.7 1057.1 2586.5 1057.1 2592.0 1058.5 C2597.5 1059.9 2600.8 1061.8 2608.0 1065.0 C2615.2 1068.2 2626.3 1073.8 2635.0 1078.0 C2643.7 1082.2 2652.9 1086.8 2660.0 1090.5 C2667.1 1094.2 2673.3 1096.3 2677.5 1100.0 C2681.7 1103.7 2682.1 1106.0 2685.0 1112.5 C2687.9 1119.0 2691.9 1130.5 2695.0 1138.8 C2698.1 1147.1 2701.4 1156.5 2703.8 1162.5 C2706.2 1168.5 2708.6 1172.5 2709.5 1174.5" fill="none" stroke="#000" stroke-width="7.9" stroke-linecap="round" stroke-linejoin="round"/></mask><mask id="m_bi" maskUnits="userSpaceOnUse" x="0" y="0" width="3358" height="1784"><rect width="3358" height="1784" fill="#fff"/><path d="M2043.8 1236.5 C2056.5 1236.8 2097.3 1237.5 2120.0 1238.0 C2142.7 1238.5 2165.3 1239.1 2180.0 1239.3 C2194.7 1239.5 2200.3 1239.9 2208.0 1239.3 C2215.7 1238.7 2220.3 1238.2 2226.3 1235.5 C2232.3 1232.8 2238.0 1228.2 2243.8 1223.0 C2249.6 1217.8 2255.3 1208.5 2261.3 1204.5 C2267.3 1200.5 2273.6 1200.0 2280.0 1198.8 C2286.4 1197.6 2287.5 1196.6 2300.0 1197.3 C2312.5 1198.0 2329.2 1201.1 2355.0 1203.0 C2380.8 1204.9 2420.8 1207.0 2455.0 1208.5 C2489.2 1210.0 2533.3 1211.0 2560.0 1211.8 C2586.7 1212.6 2600.8 1212.9 2615.0 1213.3 C2629.2 1213.7 2638.0 1213.8 2645.0 1214.3 C2652.0 1214.8 2653.2 1215.0 2657.0 1216.0 C2660.8 1217.0 2663.8 1218.2 2668.0 1220.5 C2672.2 1222.8 2677.4 1226.8 2682.5 1229.5 C2687.6 1232.2 2692.1 1235.3 2698.8 1237.0 C2705.5 1238.7 2708.1 1239.3 2722.5 1239.5 C2736.9 1239.7 2766.2 1238.7 2785.0 1238.0 C2803.8 1237.3 2817.7 1236.6 2835.0 1235.5 C2852.3 1234.4 2879.8 1232.2 2888.8 1231.5" fill="none" stroke="#000" stroke-width="7.9" stroke-linecap="round" stroke-linejoin="round"/></mask><mask id="m_ao" maskUnits="userSpaceOnUse" x="0" y="0" width="3358" height="1784"><rect width="3358" height="1784" fill="#fff"/><path d="M981.2 786.2 C986.9 788.5 1003.1 795.0 1015.0 800.0 C1026.9 805.0 1042.5 812.1 1052.5 816.2 C1062.5 820.4 1070.0 823.5 1075.0 825.0 C1080.0 826.5 1080.0 826.3 1082.5 825.5 C1085.0 824.7 1084.6 825.1 1090.0 820.0 C1095.4 814.9 1107.1 802.7 1115.0 795.0 C1122.9 787.3 1133.1 777.7 1137.5 773.8 C1141.9 769.8 1139.8 771.2 1141.2 771.2 C1142.7 771.2 1142.3 771.0 1146.2 773.8 C1150.2 776.5 1159.4 783.1 1165.0 787.5 C1170.6 791.9 1174.6 794.6 1180.0 800.0 C1185.4 805.4 1191.7 812.5 1197.5 820.0 C1203.3 827.5 1209.6 836.7 1215.0 845.0 C1220.4 853.3 1225.4 861.7 1230.0 870.0 C1234.6 878.3 1238.8 887.1 1242.5 895.0 C1246.2 902.9 1249.9 910.8 1252.5 917.5 C1255.1 924.2 1257.2 930.6 1258.0 935.0 C1258.8 939.4 1258.8 941.5 1257.5 943.8 C1256.2 946.0 1257.1 945.6 1250.0 948.8 C1242.9 951.9 1227.1 957.9 1215.0 962.5 C1202.9 967.1 1187.5 972.5 1177.5 976.2 C1167.5 980.0 1160.8 982.3 1155.0 985.0 C1149.2 987.7 1145.8 989.4 1142.5 992.5 C1139.2 995.6 1137.5 1000.0 1135.0 1003.8 C1132.5 1007.5 1130.8 1011.7 1127.5 1015.0 C1124.2 1018.3 1119.2 1021.5 1115.0 1023.8 C1110.8 1026.0 1108.8 1026.5 1102.5 1028.8 C1096.2 1031.0 1085.8 1034.6 1077.5 1037.5 C1069.2 1040.4 1059.0 1043.8 1052.5 1046.2 C1046.0 1048.8 1042.2 1050.2 1038.8 1052.5 C1035.3 1054.8 1033.4 1057.1 1031.9 1060.0 C1030.4 1062.9 1029.9 1065.8 1029.8 1070.0 C1029.6 1074.2 1030.2 1079.4 1031.2 1085.0 C1032.3 1090.6 1034.6 1097.9 1036.2 1103.8 C1037.9 1109.6 1039.8 1114.7 1041.2 1120.0 C1042.7 1125.3 1044.4 1133.0 1045.0 1135.6" fill="none" stroke="#000" stroke-width="2.6" stroke-linecap="butt" stroke-linejoin="round"/></mask><mask id="m_ai" maskUnits="userSpaceOnUse" x="0" y="0" width="3358" height="1784"><rect width="3358" height="1784" fill="#fff"/><path d="M978.8 791.2 C984.8 793.8 1005.6 802.1 1015.0 806.2 C1024.4 810.4 1030.2 813.1 1035.0 816.2 C1039.8 819.4 1041.7 821.5 1043.8 825.0 C1045.8 828.5 1047.5 832.8 1047.5 837.5 C1047.5 842.2 1045.3 848.2 1043.5 853.0 C1041.7 857.8 1040.0 858.6 1036.9 866.3 C1033.8 874.0 1029.0 888.2 1025.1 899.2 C1021.2 910.2 1017.0 922.2 1013.3 932.1 C1009.6 942.0 1005.9 951.9 1002.7 958.4 C999.5 964.9 997.1 965.4 994.2 970.9 C991.4 976.4 988.1 985.0 985.6 991.2 C983.1 997.4 980.9 1004.5 979.5 1008.0 C978.1 1011.5 978.0 1009.7 977.5 1012.5 C977.0 1015.3 975.8 1020.8 976.2 1025.0 C976.7 1029.2 977.7 1033.8 980.0 1037.5 C982.3 1041.2 986.2 1044.6 990.0 1047.5 C993.8 1050.4 998.5 1052.5 1002.5 1055.0 C1006.5 1057.5 1010.6 1059.6 1013.8 1062.5 C1016.9 1065.4 1019.2 1068.8 1021.2 1072.5 C1023.3 1076.2 1024.6 1080.0 1026.2 1085.0 C1027.9 1090.0 1029.6 1096.9 1031.2 1102.5 C1032.9 1108.1 1035.0 1114.0 1036.2 1118.8 C1037.5 1123.5 1038.3 1129.2 1038.8 1131.2" fill="none" stroke="#000" stroke-width="4.0" stroke-linecap="butt" stroke-linejoin="round"/></mask><mask id="m_at" maskUnits="userSpaceOnUse" x="0" y="0" width="3358" height="1784"><rect width="3358" height="1784" fill="#fff"/><path d="M1075.7 853.9 C1081.0 853.6 1083.5 854.6 1087.6 856.4 C1091.7 858.2 1095.4 861.5 1100.1 864.6 C1104.8 867.7 1110.2 871.3 1115.8 875.0 C1121.4 878.7 1128.8 882.3 1133.6 886.7 C1138.4 891.1 1141.9 896.2 1144.4 901.2 C1146.9 906.2 1148.3 911.9 1148.7 916.9 C1149.1 921.9 1148.7 926.5 1147.0 931.4 C1145.3 936.3 1143.9 940.6 1138.8 946.5 C1133.7 952.4 1125.6 959.7 1116.5 966.9 C1107.4 974.1 1093.0 983.9 1084.3 989.9 C1075.6 995.9 1069.9 1000.1 1064.5 1003.1 C1059.1 1006.1 1056.4 1007.3 1052.1 1008.1 C1047.8 1008.9 1044.0 1009.3 1038.9 1008.1 C1033.9 1006.9 1026.4 1004.1 1021.8 1001.1 C1017.2 998.1 1013.7 993.9 1011.3 989.9 C1008.9 985.9 1007.6 981.6 1007.3 977.4 C1007.0 973.2 1007.5 970.5 1009.3 964.9 C1011.1 959.3 1014.7 952.0 1017.9 943.9 C1021.1 935.8 1025.0 925.9 1028.4 916.3 C1031.8 906.6 1035.4 893.9 1038.2 886.0 C1041.0 878.1 1042.5 873.5 1045.5 868.9 C1048.5 864.2 1051.0 860.6 1056.0 858.1 C1061.0 855.6 1070.4 854.2 1075.7 853.9Z" fill="none" stroke="#000" stroke-width="7.0" stroke-linecap="round" stroke-linejoin="round"/></mask></defs>
<path d="M2050.0 1212.5 C2057.5 1212.8 2082.5 1214.0 2095.0 1214.5 C2107.5 1215.0 2117.2 1215.6 2125.0 1215.8 C2132.8 1216.0 2136.8 1216.4 2142.0 1215.5 C2147.2 1214.6 2151.6 1213.9 2156.3 1210.5 C2161.0 1207.1 2165.2 1203.0 2170.0 1195.0 C2174.8 1187.0 2178.3 1178.8 2185.0 1162.5 C2191.7 1146.2 2203.3 1114.4 2210.0 1097.5 C2216.7 1080.6 2220.0 1071.1 2225.0 1061.3 C2230.0 1051.5 2234.2 1044.8 2240.0 1038.8 C2245.8 1032.8 2252.7 1028.7 2260.0 1025.5 C2267.3 1022.3 2275.7 1020.7 2283.8 1019.8 C2291.9 1018.9 2300.5 1020.5 2308.8 1020.0 C2317.1 1019.5 2324.6 1018.9 2333.8 1017.0 C2343.0 1015.1 2351.9 1009.7 2363.8 1008.5 C2375.7 1007.3 2385.6 1009.1 2405.0 1010.0 C2424.4 1010.9 2454.6 1012.8 2480.0 1014.0 C2505.4 1015.2 2539.6 1016.1 2557.5 1017.3 C2575.4 1018.5 2578.3 1019.3 2587.5 1021.3 C2596.7 1023.3 2604.2 1026.0 2612.5 1029.5 C2620.8 1033.0 2628.8 1038.2 2637.5 1042.0 C2646.2 1045.8 2655.8 1049.1 2665.0 1052.5 C2674.2 1055.9 2685.6 1058.8 2692.5 1062.5 C2699.4 1066.2 2701.5 1069.6 2706.3 1075.0 C2711.1 1080.4 2716.7 1088.1 2721.3 1095.0 C2725.9 1101.9 2730.7 1109.0 2733.8 1116.3 C2736.9 1123.6 2737.5 1130.5 2740.0 1138.8 C2742.5 1147.1 2745.7 1158.2 2748.8 1166.3 C2751.9 1174.4 2754.9 1181.2 2758.8 1187.5 C2762.8 1193.8 2767.1 1199.5 2772.5 1203.8 C2777.9 1208.1 2783.4 1211.5 2791.3 1213.3 C2799.2 1215.0 2804.4 1214.9 2820.0 1214.3 C2835.6 1213.7 2874.2 1210.3 2885.0 1209.5" fill="none" stroke="#93a3ac" stroke-width="11.6" stroke-linecap="round" stroke-linejoin="round" mask="url(#m_bo)" />
<path d="M2047.5 1225.5 C2059.6 1225.7 2097.9 1226.4 2120.0 1226.8 C2142.1 1227.2 2166.2 1227.7 2180.0 1227.8 C2193.8 1227.9 2197.3 1228.5 2203.0 1227.5 C2208.7 1226.5 2211.0 1224.6 2214.0 1221.5 C2217.0 1218.4 2218.8 1213.9 2221.0 1209.0 C2223.2 1204.1 2224.4 1201.0 2227.0 1192.0 C2229.6 1183.0 2232.9 1167.8 2236.3 1155.0 C2239.7 1142.2 2243.3 1126.7 2247.5 1115.0 C2251.7 1103.3 2256.3 1093.3 2261.3 1085.0 C2266.3 1076.7 2271.7 1070.3 2277.5 1065.0 C2283.3 1059.7 2289.0 1055.8 2296.3 1053.0 C2303.6 1050.2 2307.4 1049.1 2321.3 1048.0 C2335.2 1046.9 2353.6 1046.6 2380.0 1046.3 C2406.4 1046.0 2453.3 1046.3 2480.0 1046.3 C2506.7 1046.3 2524.7 1046.4 2540.0 1046.5 C2555.3 1046.6 2564.0 1046.5 2572.0 1046.8 C2580.0 1047.0 2583.0 1047.1 2588.0 1048.0 C2593.0 1048.9 2596.2 1049.7 2602.0 1052.0 C2607.8 1054.3 2614.9 1058.0 2622.5 1062.0 C2630.1 1066.0 2639.2 1072.2 2647.5 1076.3 C2655.8 1080.3 2666.0 1083.4 2672.5 1086.3 C2679.0 1089.2 2682.6 1090.5 2686.3 1093.8 C2690.1 1097.1 2691.9 1100.3 2695.0 1106.3 C2698.1 1112.3 2701.7 1121.5 2705.0 1130.0 C2708.3 1138.5 2711.7 1148.8 2715.0 1157.5 C2718.3 1166.2 2721.2 1175.0 2725.0 1182.5 C2728.8 1190.0 2732.5 1196.7 2737.5 1202.5 C2742.5 1208.3 2748.3 1213.8 2755.0 1217.5 C2761.7 1221.2 2768.3 1223.5 2777.5 1225.0 C2786.7 1226.5 2798.3 1226.5 2810.0 1226.3 C2821.7 1226.1 2835.0 1224.9 2847.5 1223.8 C2860.0 1222.7 2878.8 1220.2 2885.0 1219.5" fill="none" stroke="#b596de" stroke-width="11.1" stroke-linecap="round" stroke-linejoin="round" mask="url(#m_bm)" />
<path d="M2245.5 1172.5 C2245.8 1169.2 2245.9 1160.8 2247.5 1152.5 C2249.1 1144.2 2252.1 1131.9 2255.0 1122.5 C2257.9 1113.1 2261.0 1104.0 2265.0 1096.3 C2269.0 1088.6 2273.8 1081.8 2278.8 1076.3 C2283.8 1070.8 2289.4 1066.0 2295.0 1063.0 C2300.6 1060.0 2304.6 1059.1 2312.5 1058.0 C2320.4 1056.9 2317.9 1056.5 2342.5 1056.3 C2367.1 1056.0 2427.1 1056.5 2460.0 1056.5 C2492.9 1056.5 2520.8 1056.5 2540.0 1056.6 C2559.2 1056.6 2566.3 1056.5 2575.0 1056.8 C2583.7 1057.1 2586.5 1057.1 2592.0 1058.5 C2597.5 1059.9 2600.8 1061.8 2608.0 1065.0 C2615.2 1068.2 2626.3 1073.8 2635.0 1078.0 C2643.7 1082.2 2652.9 1086.8 2660.0 1090.5 C2667.1 1094.2 2673.3 1096.3 2677.5 1100.0 C2681.7 1103.7 2682.1 1106.0 2685.0 1112.5 C2687.9 1119.0 2691.9 1130.5 2695.0 1138.8 C2698.1 1147.1 2701.4 1156.5 2703.8 1162.5 C2706.2 1168.5 2708.6 1172.5 2709.5 1174.5" fill="none" stroke="#bea0ea" stroke-width="11.1" stroke-linecap="round" stroke-linejoin="round" mask="url(#m_bp)" />
<path d="M2043.8 1236.5 C2056.5 1236.8 2097.3 1237.5 2120.0 1238.0 C2142.7 1238.5 2165.3 1239.1 2180.0 1239.3 C2194.7 1239.5 2200.3 1239.9 2208.0 1239.3 C2215.7 1238.7 2220.3 1238.2 2226.3 1235.5 C2232.3 1232.8 2238.0 1228.2 2243.8 1223.0 C2249.6 1217.8 2255.3 1208.5 2261.3 1204.5 C2267.3 1200.5 2273.6 1200.0 2280.0 1198.8 C2286.4 1197.6 2287.5 1196.6 2300.0 1197.3 C2312.5 1198.0 2329.2 1201.1 2355.0 1203.0 C2380.8 1204.9 2420.8 1207.0 2455.0 1208.5 C2489.2 1210.0 2533.3 1211.0 2560.0 1211.8 C2586.7 1212.6 2600.8 1212.9 2615.0 1213.3 C2629.2 1213.7 2638.0 1213.8 2645.0 1214.3 C2652.0 1214.8 2653.2 1215.0 2657.0 1216.0 C2660.8 1217.0 2663.8 1218.2 2668.0 1220.5 C2672.2 1222.8 2677.4 1226.8 2682.5 1229.5 C2687.6 1232.2 2692.1 1235.3 2698.8 1237.0 C2705.5 1238.7 2708.1 1239.3 2722.5 1239.5 C2736.9 1239.7 2766.2 1238.7 2785.0 1238.0 C2803.8 1237.3 2817.7 1236.6 2835.0 1235.5 C2852.3 1234.4 2879.8 1232.2 2888.8 1231.5" fill="none" stroke="#ead6d2" stroke-width="11.1" stroke-linecap="round" stroke-linejoin="round" mask="url(#m_bi)" />
<line x1="2241.6" y1="948.8" x2="2301.5" y2="1022.0" stroke="#b4b7b8" stroke-width="2"/>
<line x1="2468.3" y1="920.0" x2="2407.6" y2="1044.3" stroke="#b4b7b8" stroke-width="2"/>
<line x1="2822.4" y1="1138.8" x2="2706.5" y2="1167.5" stroke="#b4b7b8" stroke-width="2"/>
<line x1="2401.7" y1="1327.0" x2="2436.6" y2="1217.5" stroke="#b4b7b8" stroke-width="2"/>
<path d="M981.2 786.2 C986.9 788.5 1003.1 795.0 1015.0 800.0 C1026.9 805.0 1042.5 812.1 1052.5 816.2 C1062.5 820.4 1070.0 823.5 1075.0 825.0 C1080.0 826.5 1080.0 826.3 1082.5 825.5 C1085.0 824.7 1084.6 825.1 1090.0 820.0 C1095.4 814.9 1107.1 802.7 1115.0 795.0 C1122.9 787.3 1133.1 777.7 1137.5 773.8 C1141.9 769.8 1139.8 771.2 1141.2 771.2 C1142.7 771.2 1142.3 771.0 1146.2 773.8 C1150.2 776.5 1159.4 783.1 1165.0 787.5 C1170.6 791.9 1174.6 794.6 1180.0 800.0 C1185.4 805.4 1191.7 812.5 1197.5 820.0 C1203.3 827.5 1209.6 836.7 1215.0 845.0 C1220.4 853.3 1225.4 861.7 1230.0 870.0 C1234.6 878.3 1238.8 887.1 1242.5 895.0 C1246.2 902.9 1249.9 910.8 1252.5 917.5 C1255.1 924.2 1257.2 930.6 1258.0 935.0 C1258.8 939.4 1258.8 941.5 1257.5 943.8 C1256.2 946.0 1257.1 945.6 1250.0 948.8 C1242.9 951.9 1227.1 957.9 1215.0 962.5 C1202.9 967.1 1187.5 972.5 1177.5 976.2 C1167.5 980.0 1160.8 982.3 1155.0 985.0 C1149.2 987.7 1145.8 989.4 1142.5 992.5 C1139.2 995.6 1137.5 1000.0 1135.0 1003.8 C1132.5 1007.5 1130.8 1011.7 1127.5 1015.0 C1124.2 1018.3 1119.2 1021.5 1115.0 1023.8 C1110.8 1026.0 1108.8 1026.5 1102.5 1028.8 C1096.2 1031.0 1085.8 1034.6 1077.5 1037.5 C1069.2 1040.4 1059.0 1043.8 1052.5 1046.2 C1046.0 1048.8 1042.2 1050.2 1038.8 1052.5 C1035.3 1054.8 1033.4 1057.1 1031.9 1060.0 C1030.4 1062.9 1029.9 1065.8 1029.8 1070.0 C1029.6 1074.2 1030.2 1079.4 1031.2 1085.0 C1032.3 1090.6 1034.6 1097.9 1036.2 1103.8 C1037.9 1109.6 1039.8 1114.7 1041.2 1120.0 C1042.7 1125.3 1044.4 1133.0 1045.0 1135.6" fill="none" stroke="#b4d2f2" stroke-width="6.6" stroke-linecap="butt" stroke-linejoin="round" mask="url(#m_ao)" />
<path d="M981.2 786.2 C986.9 788.5 1003.1 795.0 1015.0 800.0 C1026.9 805.0 1042.5 812.1 1052.5 816.2 C1062.5 820.4 1070.0 823.5 1075.0 825.0 C1080.0 826.5 1080.0 826.3 1082.5 825.5 C1085.0 824.7 1084.6 825.1 1090.0 820.0 C1095.4 814.9 1107.1 802.7 1115.0 795.0 C1122.9 787.3 1133.1 777.7 1137.5 773.8 C1141.9 769.8 1139.8 771.2 1141.2 771.2 C1142.7 771.2 1142.3 771.0 1146.2 773.8 C1150.2 776.5 1159.4 783.1 1165.0 787.5 C1170.6 791.9 1174.6 794.6 1180.0 800.0 C1185.4 805.4 1191.7 812.5 1197.5 820.0 C1203.3 827.5 1209.6 836.7 1215.0 845.0 C1220.4 853.3 1225.4 861.7 1230.0 870.0 C1234.6 878.3 1238.8 887.1 1242.5 895.0 C1246.2 902.9 1249.9 910.8 1252.5 917.5 C1255.1 924.2 1257.2 930.6 1258.0 935.0 C1258.8 939.4 1258.8 941.5 1257.5 943.8 C1256.2 946.0 1257.1 945.6 1250.0 948.8 C1242.9 951.9 1227.1 957.9 1215.0 962.5 C1202.9 967.1 1187.5 972.5 1177.5 976.2 C1167.5 980.0 1160.8 982.3 1155.0 985.0 C1149.2 987.7 1145.8 989.4 1142.5 992.5 C1139.2 995.6 1137.5 1000.0 1135.0 1003.8 C1132.5 1007.5 1130.8 1011.7 1127.5 1015.0 C1124.2 1018.3 1119.2 1021.5 1115.0 1023.8 C1110.8 1026.0 1108.8 1026.5 1102.5 1028.8 C1096.2 1031.0 1085.8 1034.6 1077.5 1037.5 C1069.2 1040.4 1059.0 1043.8 1052.5 1046.2 C1046.0 1048.8 1042.2 1050.2 1038.8 1052.5 C1035.3 1054.8 1033.4 1057.1 1031.9 1060.0 C1030.4 1062.9 1029.9 1065.8 1029.8 1070.0 C1029.6 1074.2 1030.2 1079.4 1031.2 1085.0 C1032.3 1090.6 1034.6 1097.9 1036.2 1103.8 C1037.9 1109.6 1039.8 1114.7 1041.2 1120.0 C1042.7 1125.3 1044.4 1133.0 1045.0 1135.6" fill="none" stroke="#a9c6ea" stroke-opacity=".3" stroke-width="3" stroke-linejoin="round"/>
<path d="M978.8 791.2 C984.8 793.8 1005.6 802.1 1015.0 806.2 C1024.4 810.4 1030.2 813.1 1035.0 816.2 C1039.8 819.4 1041.7 821.5 1043.8 825.0 C1045.8 828.5 1047.5 832.8 1047.5 837.5 C1047.5 842.2 1045.3 848.2 1043.5 853.0 C1041.7 857.8 1040.0 858.6 1036.9 866.3 C1033.8 874.0 1029.0 888.2 1025.1 899.2 C1021.2 910.2 1017.0 922.2 1013.3 932.1 C1009.6 942.0 1005.9 951.9 1002.7 958.4 C999.5 964.9 997.1 965.4 994.2 970.9 C991.4 976.4 988.1 985.0 985.6 991.2 C983.1 997.4 980.9 1004.5 979.5 1008.0 C978.1 1011.5 978.0 1009.7 977.5 1012.5 C977.0 1015.3 975.8 1020.8 976.2 1025.0 C976.7 1029.2 977.7 1033.8 980.0 1037.5 C982.3 1041.2 986.2 1044.6 990.0 1047.5 C993.8 1050.4 998.5 1052.5 1002.5 1055.0 C1006.5 1057.5 1010.6 1059.6 1013.8 1062.5 C1016.9 1065.4 1019.2 1068.8 1021.2 1072.5 C1023.3 1076.2 1024.6 1080.0 1026.2 1085.0 C1027.9 1090.0 1029.6 1096.9 1031.2 1102.5 C1032.9 1108.1 1035.0 1114.0 1036.2 1118.8 C1037.5 1123.5 1038.3 1129.2 1038.8 1131.2" fill="none" stroke="#f8dcd8" stroke-width="8.4" stroke-linecap="butt" stroke-linejoin="round" mask="url(#m_ai)" />
<path d="M1075.7 853.9 C1081.0 853.6 1083.5 854.6 1087.6 856.4 C1091.7 858.2 1095.4 861.5 1100.1 864.6 C1104.8 867.7 1110.2 871.3 1115.8 875.0 C1121.4 878.7 1128.8 882.3 1133.6 886.7 C1138.4 891.1 1141.9 896.2 1144.4 901.2 C1146.9 906.2 1148.3 911.9 1148.7 916.9 C1149.1 921.9 1148.7 926.5 1147.0 931.4 C1145.3 936.3 1143.9 940.6 1138.8 946.5 C1133.7 952.4 1125.6 959.7 1116.5 966.9 C1107.4 974.1 1093.0 983.9 1084.3 989.9 C1075.6 995.9 1069.9 1000.1 1064.5 1003.1 C1059.1 1006.1 1056.4 1007.3 1052.1 1008.1 C1047.8 1008.9 1044.0 1009.3 1038.9 1008.1 C1033.9 1006.9 1026.4 1004.1 1021.8 1001.1 C1017.2 998.1 1013.7 993.9 1011.3 989.9 C1008.9 985.9 1007.6 981.6 1007.3 977.4 C1007.0 973.2 1007.5 970.5 1009.3 964.9 C1011.1 959.3 1014.7 952.0 1017.9 943.9 C1021.1 935.8 1025.0 925.9 1028.4 916.3 C1031.8 906.6 1035.4 893.9 1038.2 886.0 C1041.0 878.1 1042.5 873.5 1045.5 868.9 C1048.5 864.2 1051.0 860.6 1056.0 858.1 C1061.0 855.6 1070.4 854.2 1075.7 853.9Z" fill="none" stroke="#c8a4ea" stroke-width="10.8" stroke-linecap="round" stroke-linejoin="round" mask="url(#m_at)" />
<line x1="1333.0" y1="752.5" x2="1222.8" y2="815.8" stroke="#fff" stroke-width="2.2"/>
<polygon points="1207.3,825.5 1215.5,807.6 1230.0,824.0" fill="#fff"/>
<line x1="1341.0" y1="905.0" x2="1210.2" y2="916.8" stroke="#fff" stroke-width="2.2"/>
<polygon points="1190.0,917.0 1210.0,907.0 1210.5,926.5" fill="#fff"/>
<line x1="1341.0" y1="1061.3" x2="1061.9" y2="1027.2" stroke="#fff" stroke-width="2.2"/>
<polygon points="1042.0,1025.0 1062.5,1017.5 1061.3,1037.0" fill="#fff"/>
<!--/DIA-->
</svg>

<!-- ===== A-pillar labels ===== -->
<div class="box" style="left:1332px;top:700px;width:354px;height:106px;"></div>
<div class="abs lb" id="l1" style="left:1349px;top:713.5px;">侧围外板<br>普通强度<span class="lat2" style="letter-spacing:3.1px">-250Mpa</span></div>
<div class="box" style="left:1340px;top:848px;width:346px;height:114px;"></div>
<div class="abs lb" id="l2" style="left:1355px;top:860px;"><span class="lat2">3D</span>辊压管<br>超高强钢<span class="lat2" style="letter-spacing:2px">-1700Mpa</span></div>
<div class="box" style="left:1340px;top:1004px;width:346px;height:114px;"></div>
<div class="abs lb" id="l3" style="left:1363px;top:1015px;"><span class="lat2">A</span>柱内板<br>高强钢<span class="lat2" style="letter-spacing:3.7px">-800Mpa</span></div>
<div class="abs sm" id="s1" style="left:1152px;top:736.5px;">车外</div>
<div class="abs sm" id="s2" style="left:928px;top:902.5px;">车内</div>

<!-- ===== B-pillar labels ===== -->
<div class="boxg" style="left:1910px;top:832px;width:332px;height:118px;"></div>
<div class="abs lb" id="l4" style="left:1935.5px;top:846.5px;">最外层<span class="lat2">: 250Mpa</span><br>起到缓冲作用</div>
<div class="boxg" style="left:2468px;top:804px;width:414px;height:118px;"></div>
<div class="abs lb" id="l5" style="left:2494px;top:820px;">中间层<span class="lat2" style="letter-spacing:2px">:1500Mpa</span>硼钢<br>核心防撞击作用</div>
<div class="boxg" style="left:2822px;top:1024px;width:380px;height:116px;"></div>
<div class="abs lb" id="l6" style="left:2846.5px;top:1038px;">加强贴片<span class="lat2">:1500Mpa</span><br>硼钢加强结构</div>
<div class="boxg" style="left:2074px;top:1326px;width:328px;height:116px;"></div>
<div class="abs lb" id="l7" style="left:2099px;top:1339.5px;">最内层<span class="lat2" style="letter-spacing:3.4px">:800Mpa</span><br>高强度钢板</div>

</body>
</html>
